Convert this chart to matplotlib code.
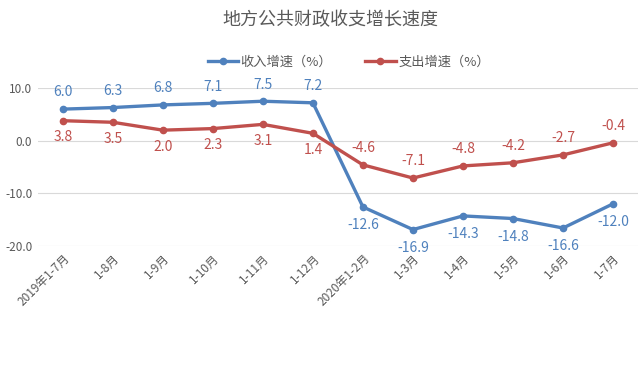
import matplotlib
matplotlib.use("Agg")
import matplotlib.pyplot as plt

plt.rcParams['font.family'] = ['Noto Sans CJK SC', 'DejaVu Sans']

months = ['2019年1-7月', '1-8月', '1-9月', '1-10月', '1-11月', '1-12月',
          '2020年1-2月', '1-3月', '1-4月', '1-5月', '1-6月', '1-7月']
income = [6.0, 6.3, 6.8, 7.1, 7.5, 7.2, -12.6, -16.9, -14.3, -14.8, -16.6, -12.0]
spend = [3.8, 3.5, 2.0, 2.3, 3.1, 1.4, -4.6, -7.1, -4.8, -4.2, -2.7, -0.4]
yticks = [10.0, 0.0, -10.0, -20.0]

blue = '#4F81BD'
red = '#C0504D'
grey = '#595959'

fig = plt.figure(figsize=(6.4, 3.67), dpi=100)
ax = fig.add_axes([0.059, 0.33, 0.938, 0.43])
x = list(range(len(months)))

ax.plot(x, income, color=blue, lw=2.4, marker='o', ms=4.5, label='收入增速（%）', zorder=3)
ax.plot(x, spend, color=red, lw=2.4, marker='o', ms=4.5, label='支出增速（%）', zorder=3)

# labels: 2019 points income above / spend below, 2020 the other way
for i, (a, b) in enumerate(zip(income, spend)):
    up = i < 6
    ax.annotate(f'{a:.1f}', (i, a), xytext=(0, 7 if up else -8), textcoords='offset points',
                ha='center', va='bottom' if up else 'top', color=blue, fontsize=10, fontweight='medium')
    ax.annotate(f'{b:.1f}', (i, b), xytext=(0, -7 if up else 7), textcoords='offset points',
                ha='center', va='top' if up else 'bottom', color=red, fontsize=10, fontweight='medium')

ax.set_xlim(-0.5, len(months) - 0.5)
ax.set_ylim(-20, 10)
ax.set_yticks(yticks)
ax.set_yticklabels([f'{v:.1f}' for v in yticks], fontsize=8.5, color=grey)
ax.set_xticks(x)
ax.set_xticklabels(months, rotation=45, ha='right', rotation_mode='anchor', fontsize=8.5, color=grey)
ax.tick_params(axis='both', length=0, pad=4)
ax.grid(axis='y', color='#D9D9D9', lw=0.8)
ax.set_axisbelow(True)
for s in ax.spines.values():
    s.set_visible(False)

fig.text(0.517, 0.945, '地方公共财政收支增长速度', ha='center', va='center', fontsize=13, color=grey)
fig.legend(loc='center', bbox_to_anchor=(0.545, 0.83), ncol=2, frameon=False, fontsize=9.5,
           handlelength=2.3, handletextpad=0.2, columnspacing=2.5, labelcolor=grey)

fig.savefig('out.png', dpi=100)
